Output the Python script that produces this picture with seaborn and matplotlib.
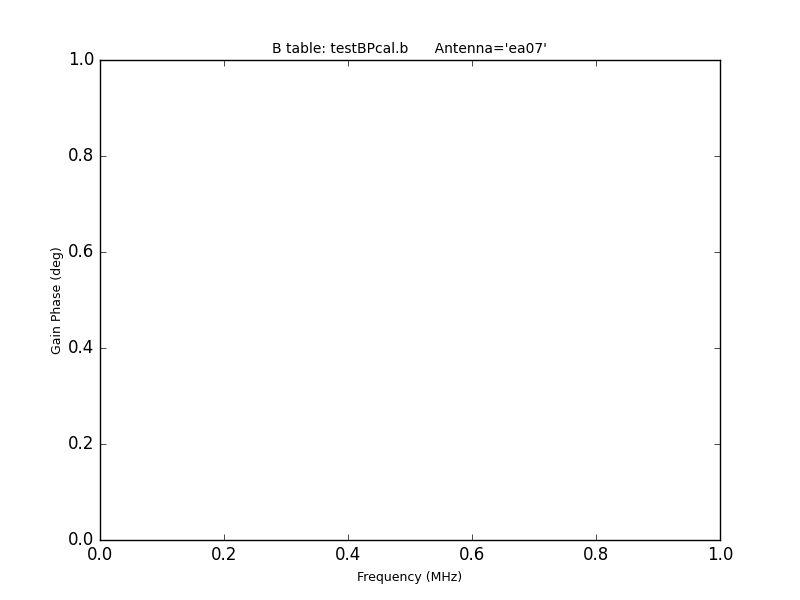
import matplotlib
matplotlib.use("Agg")
import matplotlib.pyplot as plt
import seaborn as sns

# bandpass table had no data for this antenna
frequency_mhz = []
phase_deg = []
title_text = "B table: testBPcal.b      Antenna='ea07'"

plt.style.use("classic")
plt.rcParams['font.family'] = ['DejaVu Sans']

fig, ax = plt.subplots(figsize=(8, 6), dpi=100)
fig.patch.set_facecolor("white")
fig.subplots_adjust(left=0.125, right=0.9, bottom=0.1, top=0.9)

sns.lineplot(x=frequency_mhz, y=phase_deg, ax=ax)

ax.set_xlim(0, 1)
ax.set_ylim(0, 1)
ax.set_xticks([0.0, 0.2, 0.4, 0.6, 0.8, 1.0])
ax.set_yticks([0.0, 0.2, 0.4, 0.6, 0.8, 1.0])
ax.tick_params(labelsize=12)
ax.set_xlabel("Frequency (MHz)", fontsize=9)
ax.set_ylabel("Gain Phase (deg)", fontsize=9, labelpad=3)
ax.set_title(title_text, fontsize=10)

fig.savefig("out.png", dpi=100, facecolor="white")
